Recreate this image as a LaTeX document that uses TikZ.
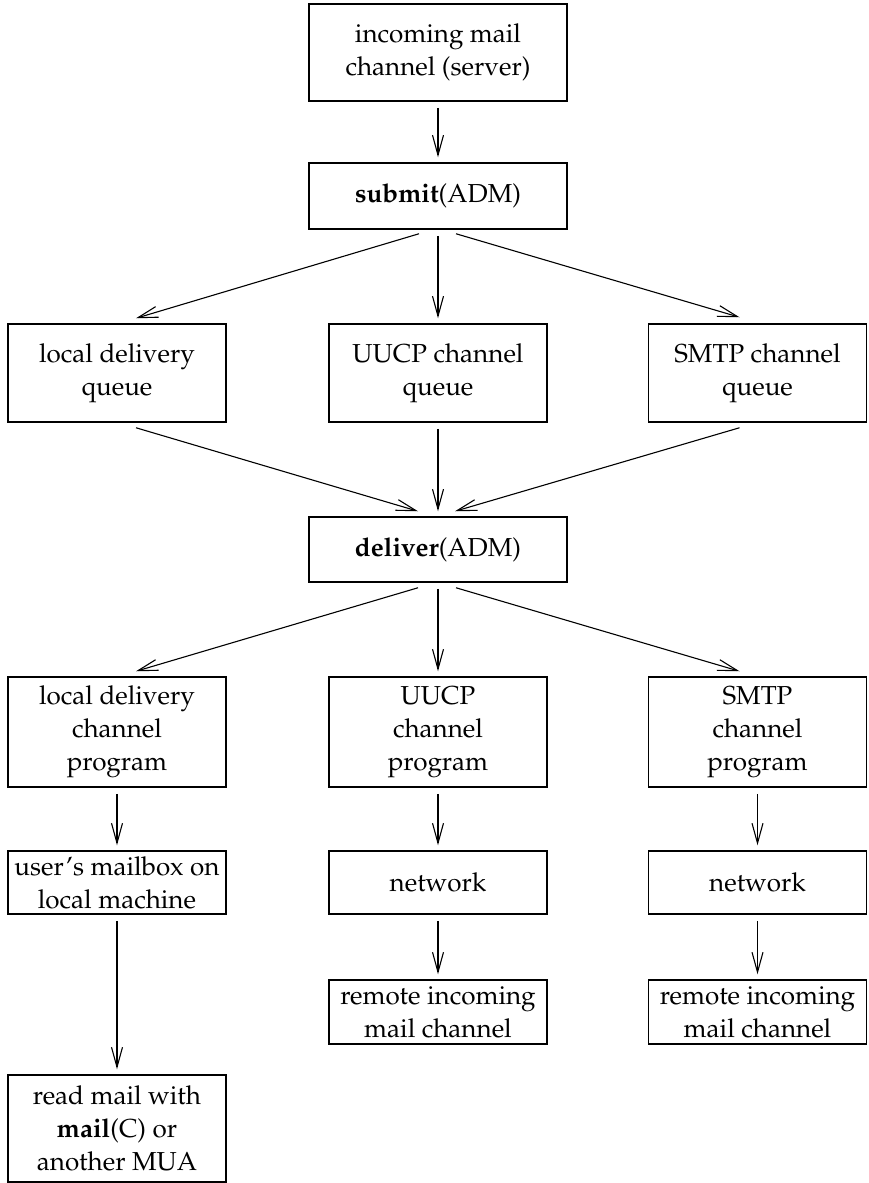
\documentclass[tikz,border=0pt]{standalone}
\usepackage[T1]{fontenc}
\usepackage{mathpazo}
\usetikzlibrary{arrows.meta}

\begin{document}
\begin{tikzpicture}[x=1pt,y=-1pt,
  box/.style={draw,line width=1.5pt,align=center,inner sep=0pt,
    font=\fontsize{26}{33}\selectfont,minimum width=218pt},
  wide/.style={box,minimum width=258pt},
  flow/.style={line width=1.1pt,-{Straight Barb[length=20pt,width=11pt]},
    shorten <=6pt,shorten >=5pt},
  diag/.style={flow,shorten <=0pt,shorten >=0pt}]
  \useasboundingbox (0,0) rectangle (869,1183);
  % server side
  \node[wide,minimum height=97pt] (incoming) at (438,52.5) {incoming mail\\channel (server)};
  \node[wide,minimum height=66pt] (submit) at (438,196) {\textbf{submit}(ADM)};
  \node[box,minimum height=98pt] (lq) at (117,373) {local delivery\\queue};
  \node[box,minimum height=98pt] (uq) at (438,373) {UUCP channel\\queue};
  \node[box,minimum height=98pt] (sq) at (757.5,373) {SMTP channel\\queue};
  \node[wide,minimum height=65pt] (deliver) at (438,549.5) {\textbf{deliver}(ADM)};
  % channel programs
  \node[box,minimum height=110pt] (lp) at (117,732) {local delivery\\channel\\program};
  \node[box,minimum height=110pt] (up) at (438,732) {UUCP\\channel\\program};
  \node[box,minimum height=110pt] (sp) at (757.5,732) {SMTP\\channel\\program};
  \node[box,minimum height=63pt] (mbox) at (117,882.5) {user's mailbox on\\local machine};
  \node[box,minimum height=63pt] (unet) at (438,882.5) {network};
  \node[box,minimum height=63pt] (snet) at (757.5,882.5) {network};
  \node[box,minimum height=64pt] (uremote) at (438,1012) {remote incoming\\mail channel};
  \node[box,minimum height=64pt] (sremote) at (757.5,1012) {remote incoming\\mail channel};
  \node[box,minimum height=107pt] (readmail) at (117,1128.5) {read mail with\\\textbf{mail}(C) or\\another MUA};

  \draw[flow] (incoming) -- (submit);
  \draw[diag] ([xshift=-19pt,yshift=-4pt]submit.south) -- ([xshift=19pt,yshift=5pt]lq.north);
  \draw[flow] (submit) -- (uq);
  \draw[diag] ([xshift=18pt,yshift=-4pt]submit.south) -- ([xshift=-18pt,yshift=6pt]sq.north);
  \draw[diag] ([xshift=19pt,yshift=-5pt]lq.south) -- ([xshift=-20pt,yshift=5pt]deliver.north);
  \draw[flow] (uq) -- (deliver);
  \draw[diag] ([xshift=-18pt,yshift=-5pt]sq.south) -- ([xshift=17pt,yshift=5pt]deliver.north);
  \draw[diag] ([xshift=-20pt,yshift=-5pt]deliver.south) -- ([xshift=19pt,yshift=5pt]lp.north);
  \draw[flow] (deliver) -- (up);
  \draw[diag] ([xshift=18pt,yshift=-5pt]deliver.south) -- ([xshift=-18pt,yshift=5pt]sp.north);
  \draw[flow] (lp) -- (mbox);
  \draw[flow] (up) -- (unet);
  \draw[flow] (sp) -- (snet);
  \draw[flow] (mbox) -- (readmail);
  \draw[flow] (unet) -- (uremote);
  \draw[flow] (snet) -- (sremote);
\end{tikzpicture}
\end{document}
